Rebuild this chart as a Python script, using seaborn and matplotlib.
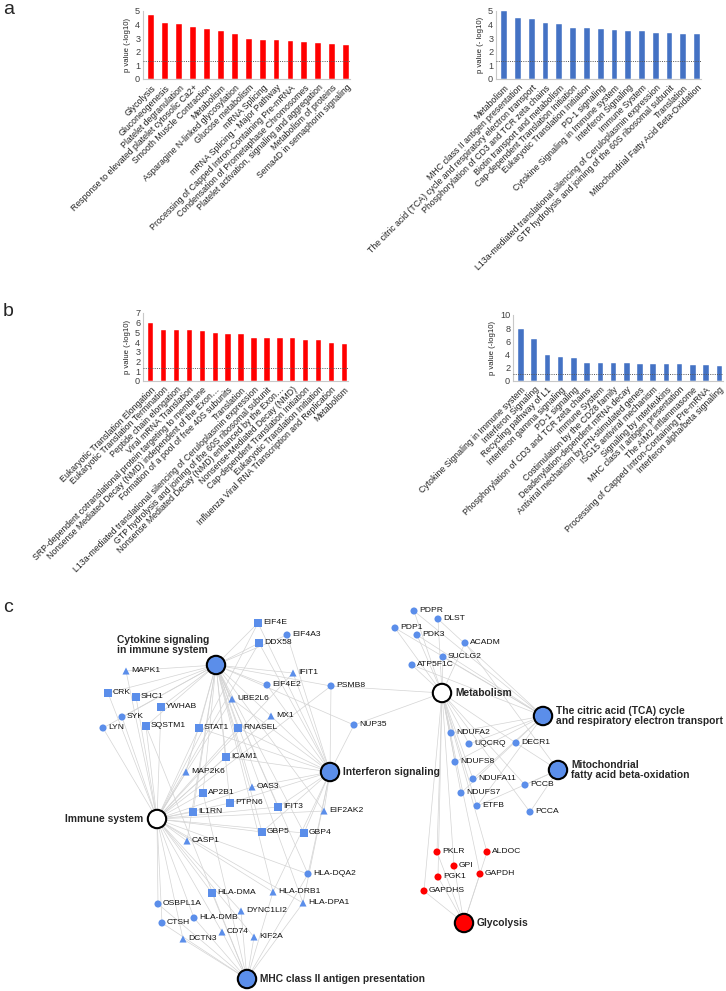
import pandas as pd
import matplotlib.pyplot as plt
import seaborn as sns
from matplotlib.collections import LineCollection

W, H = 726, 991

# ---- panel a / b bar data (-log10 p) ----
a_red_terms = ["Glycolysis", "Gluconeogenesis", "Platelet degranulation",
               "Response to elevated platelet cytosolic Ca2+", "Smooth Muscle Contraction",
               "Metabolism", "Asparagine N-linked glycosylation", "Glucose metabolism",
               "mRNA Splicing", "mRNA Splicing - Major Pathway",
               "Processing of Capped Intron-Containing Pre-mRNA",
               "Condensation of Prometaphase Chromosomes",
               "Platelet activation, signaling and aggregation", "Metabolism of proteins",
               "Sema4D in semaphorin signaling"]
a_red_vals = [4.7, 4.13, 4.03, 3.83, 3.67, 3.52, 3.3, 2.93, 2.9, 2.9, 2.79, 2.74, 2.66, 2.54, 2.47]

a_blue_terms = ["Metabolism", "MHC class II antigen presentation",
                "The citric acid (TCA) cycle and respiratory electron transport",
                "Phosphorylation of CD3 and TCR zeta chains", "Biotin transport and metabolism",
                "Cap-dependent Translation Initiation", "Eukaryotic Translation Initiation",
                "PD-1 signaling", "Cytokine Signaling in Immune system", "Interferon Signaling",
                "Immune System",
                "L13a-mediated translational silencing of Ceruloplasmin expression",
                "GTP hydrolysis and joining of the 60S ribosomal subunit", "Translation",
                "Mitochondrial Fatty Acid Beta-Oxidation"]
a_blue_vals = [5.0, 4.45, 4.38, 4.11, 4.06, 3.74, 3.74, 3.67, 3.6, 3.55, 3.5, 3.4, 3.36, 3.33, 3.3]

b_red_terms = ["Eukaryotic Translation Elongation", "Eukaryotic Translation Termination",
               "Peptide chain elongation", "Viral mRNA Translation",
               "SRP-dependent cotranslational protein targeting to membrane",
               "Nonsense Mediated Decay (NMD) independent of the Exon…",
               "Formation of a pool of free 40S subunits", "Translation",
               "L13a-mediated translational silencing of Ceruloplasmin expression",
               "GTP hydrolysis and joining of the 60S ribosomal subunit",
               "Nonsense Mediated Decay (NMD) enhanced by the Exon…",
               "Nonsense-Mediated Decay (NMD)", "Cap-dependent Translation Initiation",
               "Eukaryotic Translation Initiation",
               "Influenza Viral RNA Transcription and Replication", "Metabolism"]
b_red_vals = [5.96, 5.2, 5.2, 5.2, 5.17, 4.99, 4.79, 4.79, 4.44, 4.41, 4.41, 4.41,
              4.2, 4.2, 3.89, 3.86]

b_blue_terms = ["Cytokine Signaling in Immune system", "Interferon Signaling",
                "Recycling pathway of L1", "Interferon gamma signaling", "PD-1 signaling",
                "Phosphorylation of CD3 and TCR zeta chains", "Immune System",
                "Costimulation by the CD28 family", "Deadenylation-dependent mRNA decay",
                "Antiviral mechanism by IFN-stimulated genes", "ISG15 antiviral mechanism",
                "Signaling by Interleukins", "MHC class II antigen presentation",
                "The AIM2 inflammasome", "Processing of Capped Intron-Containing Pre-mRNA",
                "Interferon alpha/beta signaling"]
b_blue_vals = [7.9, 6.3, 4.0, 3.6, 3.5, 2.8, 2.8, 2.75, 2.7, 2.62, 2.62, 2.56, 2.55,
               2.46, 2.45, 2.25]

# ---- panel c network ----
genes = ["EIF4E", "EIF4A3", "DDX58", "MAPK1", "IFIT1", "EIF4E2", "PSMB8", "CRK", "SHC1",
         "UBE2L6", "YWHAB", "SYK", "MX1", "LYN", "SQSTM1", "STAT1", "RNASEL", "NUP35",
         "ICAM1", "MAP2K6", "OAS3", "AP2B1", "PTPN6", "IFIT3", "EIF2AK2", "IL1RN", "GBP5",
         "GBP4", "CASP1", "HLA-DQA2", "HLA-DMA", "HLA-DRB1", "HLA-DPA1", "OSBPL1A",
         "DYNC1LI2", "HLA-DMB", "CTSH", "CD74", "KIF2A", "DCTN3",
         "PDPR", "DLST", "PDP1", "PDK3", "ACADM", "SUCLG2", "ATP5F1C", "NDUFA2", "UQCRQ",
         "DECR1", "NDUFS8", "NDUFA11", "PCCB", "NDUFS7", "ETFB", "PCCA",
         "PKLR", "ALDOC", "GPI", "GAPDH", "PGK1", "GAPDHS"]
gene_x = [258, 287, 259, 126, 293, 267, 331, 108, 136, 232, 161, 122, 271, 103, 146, 199,
          238, 354, 226, 186, 252, 203, 230, 278, 324, 193, 262, 304, 187, 308, 212, 273,
          303, 158, 241, 194, 162, 222, 254, 183,
          414, 438, 395, 417, 465, 443, 412, 451, 469, 516, 455, 473, 525, 461, 477, 530,
          437, 487, 454, 480, 438, 424]
gene_y = [623, 635, 643, 671, 673, 685, 686, 693, 697, 699, 707, 717, 716, 728, 726, 728,
          728, 725, 757, 772, 787, 793, 803, 807, 811, 812, 832, 833, 841, 874, 893, 892,
          903, 904, 911, 918, 923, 932, 937, 939,
          611, 619, 628, 635, 643, 657, 665, 733, 744, 743, 762, 779, 785, 793, 806, 812,
          852, 852, 866, 874, 877, 891]
squares = {"EIF4E", "DDX58", "CRK", "SHC1", "YWHAB", "SQSTM1", "STAT1", "RNASEL", "ICAM1",
           "AP2B1", "PTPN6", "IFIT3", "IL1RN", "GBP5", "GBP4", "HLA-DMA"}
triangles = {"MAPK1", "IFIT1", "UBE2L6", "MX1", "MAP2K6", "OAS3", "EIF2AK2", "CASP1",
             "HLA-DRB1", "HLA-DPA1", "DYNC1LI2", "CD74", "KIF2A", "DCTN3"}
glyco_genes = ["PKLR", "ALDOC", "GPI", "GAPDH", "PGK1", "GAPDHS"]

hubs = ["Cytokine signaling\nin immune system", "Immune system", "Interferon signaling",
        "MHC class II antigen presentation", "Metabolism",
        "The citric acid (TCA) cycle\nand respiratory electron transport",
        "Mitochondrial\nfatty acid beta-oxidation", "Glycolysis"]
hub_x = [216, 157, 330, 247, 442, 543, 558, 464]
hub_y = [665, 819, 772, 979, 693, 716, 770, 923]
hub_fill = ["blue", "white", "blue", "blue", "white", "blue", "blue", "red"]

members = {
    "Cytokine signaling\nin immune system": [
        "MAPK1", "CRK", "SHC1", "YWHAB", "SYK", "LYN", "SQSTM1", "STAT1", "RNASEL", "EIF4E",
        "EIF4A3", "DDX58", "IFIT1", "EIF4E2", "UBE2L6", "MX1", "PSMB8", "NUP35", "ICAM1",
        "MAP2K6", "OAS3", "AP2B1", "PTPN6", "IFIT3", "EIF2AK2", "IL1RN", "GBP5", "GBP4",
        "CASP1", "HLA-DQA2", "HLA-DRB1", "HLA-DPA1"],
    "Immune system": [
        "MAPK1", "CRK", "SHC1", "YWHAB", "SYK", "LYN", "SQSTM1", "STAT1", "RNASEL", "EIF4E",
        "DDX58", "IFIT1", "UBE2L6", "MX1", "PSMB8", "ICAM1", "MAP2K6", "OAS3", "AP2B1",
        "PTPN6", "IFIT3", "EIF2AK2", "IL1RN", "GBP5", "GBP4", "CASP1", "HLA-DQA2",
        "HLA-DMA", "HLA-DRB1", "HLA-DPA1", "OSBPL1A", "DYNC1LI2", "HLA-DMB", "CTSH", "CD74",
        "KIF2A", "DCTN3"],
    "Interferon signaling": [
        "EIF4E", "EIF4A3", "DDX58", "IFIT1", "EIF4E2", "UBE2L6", "MX1", "PSMB8", "NUP35",
        "STAT1", "RNASEL", "ICAM1", "OAS3", "PTPN6", "IFIT3", "EIF2AK2", "GBP5", "GBP4",
        "HLA-DQA2", "HLA-DRB1", "HLA-DPA1"],
    "MHC class II antigen presentation": [
        "AP2B1", "SQSTM1", "HLA-DQA2", "HLA-DMA", "HLA-DRB1", "HLA-DPA1", "OSBPL1A",
        "DYNC1LI2", "HLA-DMB", "CTSH", "CD74", "KIF2A", "DCTN3"],
    "Metabolism": [
        "PSMB8", "NUP35", "PDPR", "DLST", "PDP1", "PDK3", "ACADM", "SUCLG2", "ATP5F1C",
        "NDUFA2", "UQCRQ", "DECR1", "NDUFS8", "NDUFA11", "PCCB", "NDUFS7", "ETFB", "PCCA",
        "PKLR", "ALDOC", "GPI", "GAPDH", "PGK1", "GAPDHS"],
    "The citric acid (TCA) cycle\nand respiratory electron transport": [
        "PDPR", "DLST", "PDP1", "PDK3", "SUCLG2", "ATP5F1C", "NDUFA2", "UQCRQ", "NDUFS8",
        "NDUFA11", "NDUFS7", "ETFB"],
    "Mitochondrial\nfatty acid beta-oxidation": ["ACADM", "DECR1", "PCCB", "PCCA", "ETFB"],
    "Glycolysis": glyco_genes,
}

RED = "#ff0000"
BLUE_BAR = "#4472c4"
NODE_BLUE = "#5b8eea"


def bar_panel(fig, box, terms, vals, color, ymax, step, ylabel, thresh):
    L, T, R, B = box
    ax = fig.add_axes([L / W, 1 - B / H, (R - L) / W, (B - T) / H])
    df = pd.DataFrame({"term": terms, "val": vals})
    sns.barplot(data=df, x="term", y="val", color=color, saturation=1, width=0.42,
                edgecolor="white", linewidth=0.3, ax=ax)
    n = len(terms)
    ax.set_xlim(-0.6, n - 0.72)
    ax.set_ylim(0, ymax)
    # p = 0.05 threshold
    ax.axhline(thresh, color="#555555", lw=0.7, ls=(0, (1, 1.3)), zorder=3)
    ax.set_yticks(range(0, ymax + 1, step))
    ax.set_xticks(range(n))
    ax.set_xticklabels(terms, rotation=45, ha="right", rotation_mode="anchor",
                       fontsize=6.3, color="#222222")
    ax.tick_params(axis="x", length=0, pad=3)
    ax.tick_params(axis="y", length=0, pad=2, labelsize=6.6, labelcolor="#404040")
    ax.set_xlabel("")
    ax.set_ylabel(ylabel, fontsize=5.6, color="#222222", labelpad=3)
    for s in ["top", "right"]:
        ax.spines[s].set_visible(False)
    for s in ["left", "bottom"]:
        ax.spines[s].set_color("#c8c8c8")
        ax.spines[s].set_linewidth(0.8)
    return ax


def main():
    sns.set_style("white")
    plt.rcParams["font.family"] = ["Liberation Sans", "DejaVu Sans"]
    fig = plt.figure(figsize=(W / 100, H / 100), dpi=100)

    bar_panel(fig, (143, 11, 350, 79), a_red_terms, a_red_vals, RED, 5, 1,
              "p value (-log10)", 1.3)
    bar_panel(fig, (496, 11, 701, 79), a_blue_terms, a_blue_vals, BLUE_BAR, 5, 1,
              "p value (- log10)", 1.3)
    bar_panel(fig, (143, 313, 348, 381), b_red_terms, b_red_vals, RED, 7, 1,
              "p value (-log10)", 1.3)
    bar_panel(fig, (513, 315, 723, 381), b_blue_terms, b_blue_vals, BLUE_BAR, 10, 2,
              "p value (-log10)", 1.0)

    # network axes in pixel coordinates
    top = 600
    axc = fig.add_axes([0, 0, 1, (H - top) / H])
    axc.set_xlim(0, W)
    axc.set_ylim(H, top)
    axc.axis("off")

    gpos = {g: (x, y) for g, x, y in zip(genes, gene_x, gene_y)}
    hpos = {h: (x, y) for h, x, y in zip(hubs, hub_x, hub_y)}
    segs = []
    for h, gl in members.items():
        for g in gl:
            segs.append([hpos[h], gpos[g]])
    axc.add_collection(LineCollection(segs, colors="#d4d4d4", linewidths=0.5, zorder=1))

    shape = ["square" if g in squares else "triangle" if g in triangles else "circle"
             for g in genes]
    group = ["glyco" if g in glyco_genes else "other" for g in genes]
    nodes = pd.DataFrame({"gene": genes, "x": gene_x, "y": gene_y, "shape": shape,
                          "group": group})
    sns.scatterplot(data=nodes, x="x", y="y", style="shape", hue="group",
                    markers={"circle": "o", "square": "s", "triangle": "^"},
                    palette={"other": NODE_BLUE, "glyco": RED}, s=26, linewidth=0,
                    legend=False, ax=axc, zorder=3)
    for g, x, y in zip(genes, gene_x, gene_y):
        axc.text(x + 5, y, g, fontsize=6.1, va="center", ha="left", color="#111111", zorder=4)

    hubdf = pd.DataFrame({"hub": hubs, "x": hub_x, "y": hub_y, "fill": hub_fill})
    sns.scatterplot(data=hubdf, x="x", y="y", hue="fill",
                    palette={"blue": NODE_BLUE, "white": "white", "red": RED},
                    s=175, edgecolor="black", linewidth=1.5, legend=False, ax=axc, zorder=5)
    axc.set_xlabel("")
    axc.set_ylabel("")
    for h, x, y in zip(hubs, hub_x, hub_y):
        if h.startswith("Cytokine"):
            axc.text(117, y - 20, h, fontsize=7.4, fontweight="bold", ha="left",
                     va="center", linespacing=1.0, zorder=6)
        elif h == "Immune system":
            axc.text(x - 14, y, h, fontsize=7.4, fontweight="bold", ha="right",
                     va="center", zorder=6)
        else:
            axc.text(x + 13, y, h, fontsize=7.4, fontweight="bold", ha="left",
                     va="center", linespacing=1.0, zorder=6)

    for lab, y in [("a", 9), ("b", 311), ("c", 608)]:
        fig.text(3 / W, 1 - y / H, lab, fontsize=14, ha="left", va="center")

    fig.savefig("out.png", dpi=100, facecolor="white")
    plt.close(fig)


if __name__ == "__main__":
    main()
